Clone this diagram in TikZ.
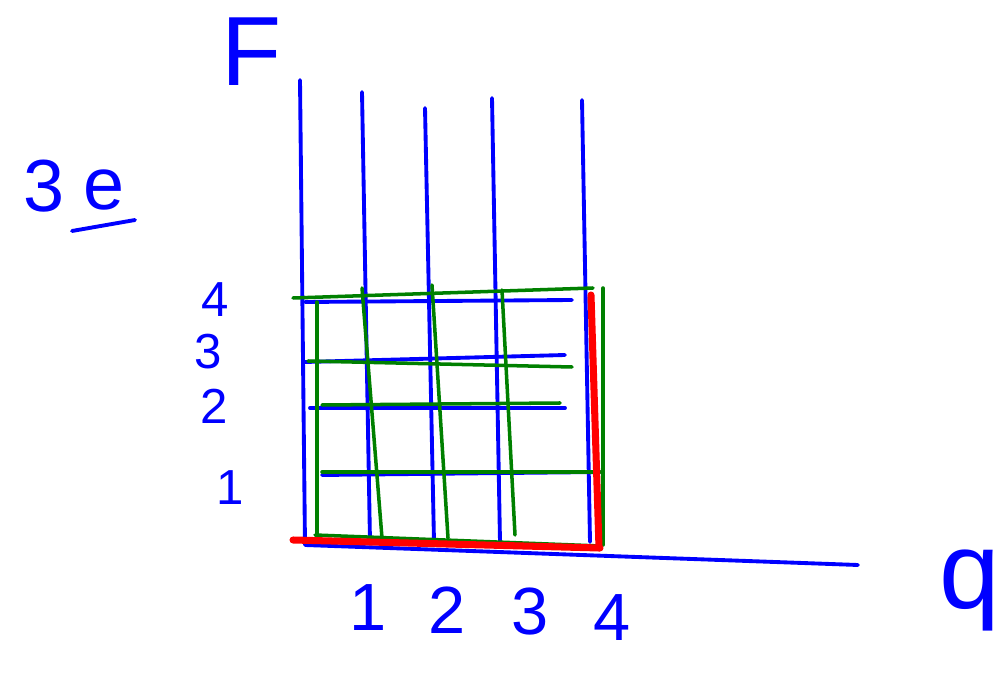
\documentclass[tikz,border=0pt]{standalone}
\usepackage{fontspec}
\setmainfont{Liberation Sans}
\begin{document}
\begin{tikzpicture}[
  x=0.02cm, y=-0.02cm,
  ink/.style={blue, line width=2.2pt, line cap=round, line join=round},
  grn/.style={green!50!black, line width=2pt, line cap=round},
  hl/.style={red, line width=4pt, line cap=round},
  lab/.style={blue, inner sep=0pt, font=\fontsize{28}{28}\selectfont}
]
\useasboundingbox (0,0) rectangle (1004,678);
% axes
\coordinate (ftop) at (300,80);
\coordinate (orig) at (305,545);
\coordinate (gend) at (858,565);
\draw[ink] (ftop) -- (orig) -- (gend);
% blue grid
\foreach \xt/\yt/\xb in {362/92/370, 425/108/434, 492/98/500, 582/100/590}
  \draw[ink] (\xt,\yt) -- (\xb,542);
\foreach \xa/\ya/\xb/\yb in {305/302/572/300, 305/362/565/355, 310/408/565/408, 322/475/600/472}
  \draw[ink] (\xa,\ya) -- (\xb,\yb);
% green grid
\foreach \xa/\ya/\xb/\yb in {293/298/593/288, 308/361/572/367, 322/405/560/403, 322/472/600/472, 315/535/600/546}
  \draw[grn] (\xa,\ya) -- (\xb,\yb);
\foreach \xa/\ya/\xb/\yb in {317/302/317/538, 362/288/382/538, 432/285/448/538, 502/290/515/535, 603/288/603/545}
  \draw[grn] (\xa,\ya) -- (\xb,\yb);
% red border
\draw[hl] (293,540) -- (600,548);
\draw[hl] (591,295) -- (599,548);
% labels
\node[lab, font=\fontsize{56}{56}\selectfont] (flab) at (252,52) {F};
\node[lab, font=\fontsize{62}{62}\selectfont] (glab) at (970,590) {q};
\node[lab, font=\fontsize{42}{42}\selectfont] (tnum) at (44,186) {3};
\node[lab, font=\fontsize{42}{42}\selectfont] (tlet) at (104,190) {e};
\coordinate (ul1) at (72,231);
\coordinate (ul2) at (135,220);
\draw[ink] (ul1) -- (ul2);
\foreach \n/\x/\y in {4/215/300, 3/208/352, 2/214/406, 1/230/488}
  \node[lab] (y\n) at (\x,\y) {\n};
\foreach \n/\x/\y in {1/368/608, 2/447/610, 3/530/612, 4/612/618}
  \node[lab, font=\fontsize{38}{38}\selectfont] (x\n) at (\x,\y) {\n};
\end{tikzpicture}
\end{document}
